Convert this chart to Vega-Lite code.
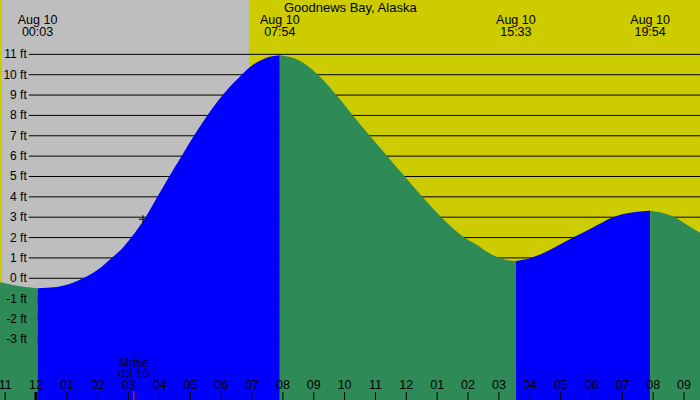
{
  "$schema": "https://vega.github.io/schema/vega-lite/v6.json",
  "width": 700,
  "height": 400,
  "padding": 0,
  "autosize": {"type": "none"},
  "background": "#BEBEBE",
  "config": {
    "view": {"stroke": null},
    "text": {"font": "Liberation Sans", "fontSize": 12.5, "color": "#000000"}
  },
  "datasets": {
    "sun": [
      {"t": "2024-08-09T22:50", "t_end": "2024-08-09T22:54", "period": "day"},
      {"t": "2024-08-09T22:54", "t_end": "2024-08-10T06:54", "period": "night"},
      {"t": "2024-08-10T06:54", "t_end": "2024-08-10T21:31", "period": "day"}
    ],
    "grid": [
      {"ft": -3, "label": "-3 ft"}, {"ft": -2, "label": "-2 ft"}, {"ft": -1, "label": "-1 ft"},
      {"ft": 0, "label": "0 ft"}, {"ft": 1, "label": "1 ft"}, {"ft": 2, "label": "2 ft"},
      {"ft": 3, "label": "3 ft"}, {"ft": 4, "label": "4 ft"}, {"ft": 5, "label": "5 ft"},
      {"ft": 6, "label": "6 ft"}, {"ft": 7, "label": "7 ft"}, {"ft": 8, "label": "8 ft"},
      {"ft": 9, "label": "9 ft"}, {"ft": 10, "label": "10 ft"}, {"ft": 11, "label": "11 ft"}
    ],
    "hours": [
      {"t": "2024-08-09T23:00"}, {"t": "2024-08-10T00:00"}, {"t": "2024-08-10T01:00"},
      {"t": "2024-08-10T02:00"}, {"t": "2024-08-10T03:00"}, {"t": "2024-08-10T04:00"},
      {"t": "2024-08-10T05:00"}, {"t": "2024-08-10T06:00"}, {"t": "2024-08-10T07:00"},
      {"t": "2024-08-10T08:00"}, {"t": "2024-08-10T09:00"}, {"t": "2024-08-10T10:00"},
      {"t": "2024-08-10T11:00"}, {"t": "2024-08-10T12:00"}, {"t": "2024-08-10T13:00"},
      {"t": "2024-08-10T14:00"}, {"t": "2024-08-10T15:00"}, {"t": "2024-08-10T16:00"},
      {"t": "2024-08-10T17:00"}, {"t": "2024-08-10T18:00"}, {"t": "2024-08-10T19:00"},
      {"t": "2024-08-10T20:00"}, {"t": "2024-08-10T21:00"}
    ],
    "tide": [
      {"t": "2024-08-09T22:50", "ft": -0.2, "seg": "a", "dir": "falling"},
      {"t": "2024-08-09T23:15", "ft": -0.33, "seg": "a", "dir": "falling"},
      {"t": "2024-08-09T23:35", "ft": -0.42, "seg": "a", "dir": "falling"},
      {"t": "2024-08-10T00:03", "ft": -0.49, "seg": "a", "dir": "falling"},

      {"t": "2024-08-10T00:03", "ft": -0.49, "seg": "b", "dir": "rising"},
      {"t": "2024-08-10T00:40", "ft": -0.43, "seg": "b", "dir": "rising"},
      {"t": "2024-08-10T01:00", "ft": -0.32, "seg": "b", "dir": "rising"},
      {"t": "2024-08-10T01:31", "ft": 0.0, "seg": "b", "dir": "rising"},
      {"t": "2024-08-10T02:00", "ft": 0.42, "seg": "b", "dir": "rising"},
      {"t": "2024-08-10T02:27", "ft": 1.0, "seg": "b", "dir": "rising"},
      {"t": "2024-08-10T02:47", "ft": 1.45, "seg": "b", "dir": "rising"},
      {"t": "2024-08-10T03:05", "ft": 2.0, "seg": "b", "dir": "rising"},
      {"t": "2024-08-10T03:33", "ft": 3.0, "seg": "b", "dir": "rising"},
      {"t": "2024-08-10T03:56", "ft": 4.0, "seg": "b", "dir": "rising"},
      {"t": "2024-08-10T04:19", "ft": 5.0, "seg": "b", "dir": "rising"},
      {"t": "2024-08-10T04:43", "ft": 6.0, "seg": "b", "dir": "rising"},
      {"t": "2024-08-10T05:07", "ft": 7.0, "seg": "b", "dir": "rising"},
      {"t": "2024-08-10T05:33", "ft": 8.0, "seg": "b", "dir": "rising"},
      {"t": "2024-08-10T06:03", "ft": 9.0, "seg": "b", "dir": "rising"},
      {"t": "2024-08-10T06:40", "ft": 10.0, "seg": "b", "dir": "rising"},
      {"t": "2024-08-10T07:00", "ft": 10.45, "seg": "b", "dir": "rising"},
      {"t": "2024-08-10T07:25", "ft": 10.8, "seg": "b", "dir": "rising"},
      {"t": "2024-08-10T07:54", "ft": 10.95, "seg": "b", "dir": "rising"},

      {"t": "2024-08-10T07:54", "ft": 10.95, "seg": "c", "dir": "falling"},
      {"t": "2024-08-10T08:30", "ft": 10.72, "seg": "c", "dir": "falling"},
      {"t": "2024-08-10T09:08", "ft": 10.0, "seg": "c", "dir": "falling"},
      {"t": "2024-08-10T09:44", "ft": 9.0, "seg": "c", "dir": "falling"},
      {"t": "2024-08-10T10:16", "ft": 8.0, "seg": "c", "dir": "falling"},
      {"t": "2024-08-10T10:49", "ft": 7.0, "seg": "c", "dir": "falling"},
      {"t": "2024-08-10T11:23", "ft": 6.0, "seg": "c", "dir": "falling"},
      {"t": "2024-08-10T11:57", "ft": 5.0, "seg": "c", "dir": "falling"},
      {"t": "2024-08-10T12:31", "ft": 4.0, "seg": "c", "dir": "falling"},
      {"t": "2024-08-10T13:08", "ft": 3.0, "seg": "c", "dir": "falling"},
      {"t": "2024-08-10T13:53", "ft": 2.0, "seg": "c", "dir": "falling"},
      {"t": "2024-08-10T14:20", "ft": 1.6, "seg": "c", "dir": "falling"},
      {"t": "2024-08-10T14:40", "ft": 1.25, "seg": "c", "dir": "falling"},
      {"t": "2024-08-10T14:58", "ft": 1.03, "seg": "c", "dir": "falling"},
      {"t": "2024-08-10T15:15", "ft": 0.9, "seg": "c", "dir": "falling"},
      {"t": "2024-08-10T15:33", "ft": 0.85, "seg": "c", "dir": "falling"},

      {"t": "2024-08-10T15:33", "ft": 0.85, "seg": "d", "dir": "rising"},
      {"t": "2024-08-10T16:00", "ft": 0.98, "seg": "d", "dir": "rising"},
      {"t": "2024-08-10T16:30", "ft": 1.28, "seg": "d", "dir": "rising"},
      {"t": "2024-08-10T17:24", "ft": 2.0, "seg": "d", "dir": "rising"},
      {"t": "2024-08-10T18:00", "ft": 2.46, "seg": "d", "dir": "rising"},
      {"t": "2024-08-10T18:42", "ft": 3.0, "seg": "d", "dir": "rising"},
      {"t": "2024-08-10T19:15", "ft": 3.22, "seg": "d", "dir": "rising"},
      {"t": "2024-08-10T19:54", "ft": 3.32, "seg": "d", "dir": "rising"},

      {"t": "2024-08-10T19:54", "ft": 3.32, "seg": "e", "dir": "falling"},
      {"t": "2024-08-10T20:20", "ft": 3.2, "seg": "e", "dir": "falling"},
      {"t": "2024-08-10T20:42", "ft": 3.0, "seg": "e", "dir": "falling"},
      {"t": "2024-08-10T21:00", "ft": 2.72, "seg": "e", "dir": "falling"},
      {"t": "2024-08-10T21:31", "ft": 2.24, "seg": "e", "dir": "falling"}
    ],
    "extremes": [
      {"t": "2024-08-10T00:03", "ft": -0.49},
      {"t": "2024-08-10T07:54", "ft": 10.95},
      {"t": "2024-08-10T15:33", "ft": 0.85},
      {"t": "2024-08-10T19:54", "ft": 3.32}
    ],
    "moon": [
      {"event": "Mrise", "t": "2024-08-10T03:10"}
    ],
    "midnight": [
      {"t": "2024-08-10T00:00"}
    ],
    "now": [
      {"t": "2024-08-10T03:28", "ft": 2.9}
    ]
  },
  "resolve": {"scale": {"color": "independent"}},
  "layer": [
    {
      "data": {"name": "sun"},
      "mark": {"type": "rect"},
      "encoding": {
        "x": {
          "field": "t",
          "type": "temporal",
          "axis": null,
          "scale": {
            "domain": [
              {"year": 2024, "month": 8, "date": 9, "hours": 22, "minutes": 50},
              {"year": 2024, "month": 8, "date": 10, "hours": 21, "minutes": 31}
            ],
            "nice": false
          }
        },
        "x2": {"field": "t_end"},
        "color": {
          "field": "period",
          "type": "nominal",
          "scale": {"domain": ["day", "night"], "range": ["#CCCC00", "#BEBEBE"]},
          "legend": null
        }
      }
    },
    {
      "data": {"name": "grid"},
      "mark": {"type": "rule", "color": "#000000", "strokeWidth": 1},
      "encoding": {
        "y": {
          "field": "ft",
          "type": "quantitative",
          "axis": null,
          "scale": {"domain": [-5.98, 13.67], "nice": false, "zero": false}
        },
        "x": {"datum": {"year": 2024, "month": 8, "date": 9, "hours": 23, "minutes": 46}, "type": "temporal", "axis": null},
        "x2": {"datum": {"year": 2024, "month": 8, "date": 10, "hours": 21, "minutes": 31}}
      }
    },
    {
      "data": {"name": "tide"},
      "mark": {"type": "area", "interpolate": "monotone", "clip": true},
      "encoding": {
        "x": {"field": "t", "type": "temporal", "axis": null},
        "y": {"field": "ft", "type": "quantitative", "axis": null},
        "y2": {"datum": -5.98},
        "detail": {"field": "seg", "type": "nominal"},
        "color": {
          "field": "dir",
          "type": "nominal",
          "scale": {"domain": ["rising", "falling"], "range": ["#0000FF", "#2E8B57"]},
          "legend": null
        }
      }
    },
    {
      "data": {"name": "grid"},
      "mark": {"type": "text", "align": "right", "baseline": "middle", "dx": -2, "fontSize": 12},
      "encoding": {
        "text": {"field": "label"},
        "x": {"datum": {"year": 2024, "month": 8, "date": 9, "hours": 23, "minutes": 46}, "type": "temporal", "axis": null},
        "y": {"field": "ft", "type": "quantitative", "axis": null}
      }
    },
    {
      "data": {"name": "hours"},
      "mark": {"type": "rule", "color": "#000000", "strokeWidth": 1},
      "encoding": {
        "x": {"field": "t", "type": "temporal", "axis": null},
        "y": {"datum": -5.98, "type": "quantitative", "axis": null},
        "y2": {"datum": -5.59}
      }
    },
    {
      "data": {"name": "hours"},
      "mark": {"type": "text", "align": "center", "baseline": "alphabetic"},
      "encoding": {
        "text": {"field": "t", "type": "temporal", "format": "%I"},
        "x": {"field": "t", "type": "temporal", "axis": null},
        "y": {"datum": -5.46, "type": "quantitative", "axis": null}
      }
    },
    {
      "data": {"name": "midnight"},
      "mark": {"type": "rule", "color": "#000000", "strokeWidth": 3},
      "encoding": {
        "x": {"field": "t", "type": "temporal", "axis": null},
        "y": {"datum": -5.98, "type": "quantitative", "axis": null},
        "y2": {"datum": -5.59}
      }
    },
    {
      "data": {"values": [{"name": "Goodnews Bay, Alaska"}]},
      "mark": {"type": "text", "align": "center", "baseline": "alphabetic", "fontSize": 13},
      "encoding": {
        "text": {"field": "name"},
        "x": {"datum": {"year": 2024, "month": 8, "date": 10, "hours": 10, "minutes": 11}, "type": "temporal", "axis": null},
        "y": {"datum": 13.08, "type": "quantitative", "axis": null}
      }
    },
    {
      "data": {"name": "extremes"},
      "mark": {"type": "text", "align": "center", "baseline": "alphabetic"},
      "encoding": {
        "text": {"field": "t", "type": "temporal", "format": "%b %d"},
        "x": {"field": "t", "type": "temporal", "axis": null},
        "y": {"datum": 12.49, "type": "quantitative", "axis": null}
      }
    },
    {
      "data": {"name": "extremes"},
      "mark": {"type": "text", "align": "center", "baseline": "alphabetic"},
      "encoding": {
        "text": {"field": "t", "type": "temporal", "format": "%H:%M"},
        "x": {"field": "t", "type": "temporal", "axis": null},
        "y": {"datum": 11.9, "type": "quantitative", "axis": null}
      }
    },
    {
      "data": {"name": "moon"},
      "mark": {"type": "text", "align": "center", "baseline": "alphabetic"},
      "encoding": {
        "text": {"field": "event"},
        "x": {"field": "t", "type": "temporal", "axis": null},
        "y": {"datum": -4.34, "type": "quantitative", "axis": null}
      }
    },
    {
      "data": {"name": "moon"},
      "mark": {"type": "text", "align": "center", "baseline": "alphabetic"},
      "encoding": {
        "text": {"field": "t", "type": "temporal", "format": "%H:%M"},
        "x": {"field": "t", "type": "temporal", "axis": null},
        "y": {"datum": -4.88, "type": "quantitative", "axis": null}
      }
    },
    {
      "data": {"name": "moon"},
      "mark": {"type": "rule", "color": "#FF0000", "strokeWidth": 1.5},
      "encoding": {
        "x": {"field": "t", "type": "temporal", "axis": null},
        "y": {"datum": -5.98, "type": "quantitative", "axis": null},
        "y2": {"datum": -5.54}
      }
    },
    {
      "data": {"name": "now"},
      "mark": {"type": "point", "shape": "M-1,0H1M0,-1V1", "filled": false, "stroke": "#000000", "strokeWidth": 1, "size": 64, "opacity": 1},
      "encoding": {
        "x": {"field": "t", "type": "temporal", "axis": null},
        "y": {"field": "ft", "type": "quantitative", "axis": null}
      }
    }
  ]
}
